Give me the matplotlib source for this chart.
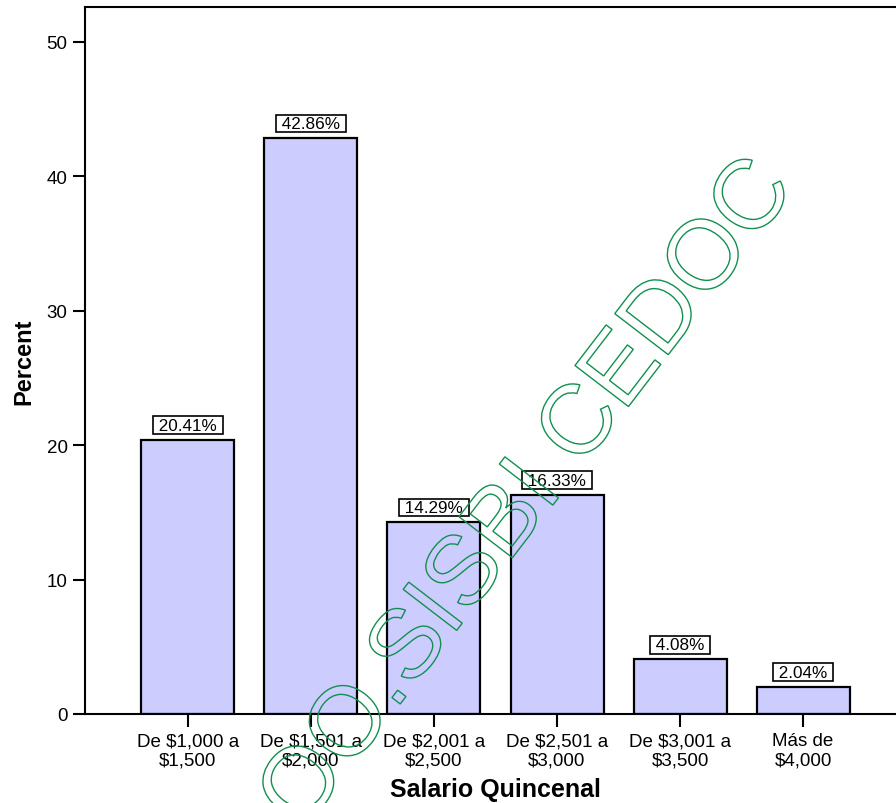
import matplotlib
matplotlib.use('Agg')
import matplotlib.pyplot as plt
from matplotlib.textpath import TextPath
from matplotlib.patches import PathPatch
from matplotlib.font_manager import FontProperties
from matplotlib.transforms import Affine2D

# ---- data ----
categories = ["De $1,000 a\n$1,500", "De $1,501 a\n$2,000", "De $2,001 a\n$2,500",
              "De $2,501 a\n$3,000", "De $3,001 a\n$3,500", "Más de\n$4,000"]
percents = [20.41, 42.86, 14.29, 16.33, 4.08, 2.04]
bar_labels = ["20.41%", "42.86%", "14.29%", "16.33%", "4.08%", "2.04%"]
yticks = [0, 10, 20, 30, 40, 50]
xlabel = "Salario Quincenal"
ylabel = "Percent"
watermark = "OO.SISBI CEDOC"

plt.rcParams['font.family'] = ['Liberation Sans', 'DejaVu Sans']

W, H = 896, 804
fig = plt.figure(figsize=(W / 100, H / 100), dpi=100)
ax = fig.add_axes([85 / W, 1 - 715 / H, (906 - 85) / W, (715 - 8) / H])

x = list(range(len(categories)))
ax.bar(x, percents, width=0.756, color='#ccccff', edgecolor='black',
       linewidth=1.6, zorder=2)

for xi, v, lab in zip(x, percents, bar_labels):
    ax.annotate(" " + lab + " ", (xi, v), xytext=(0, 5.0), textcoords='offset points',
                ha='center', va='bottom', fontsize=12.3, zorder=3,
                bbox=dict(boxstyle='square,pad=0.08', facecolor='white',
                          edgecolor='black', linewidth=1.2))

ax.set_xlim(-0.837, 5.837)
ax.set_ylim(0, 52.6)
ax.set_yticks(yticks)
ax.set_yticklabels([str(t) for t in yticks])
ax.set_xticks(x)
ax.set_xticklabels(categories, parse_math=False)
ax.tick_params(axis='both', direction='out', length=9, width=1.5, labelsize=13.5,
               color='black', labelcolor='black')
ax.tick_params(axis='y', pad=3.5)
ax.tick_params(axis='x', pad=4)
for s in ['left', 'bottom', 'top']:
    ax.spines[s].set_linewidth(1.5)
ax.spines['right'].set_visible(False)

ax.set_xlabel(xlabel, fontsize=18, fontweight='bold', labelpad=6)
ax.set_ylabel(ylabel, fontsize=17, fontweight='bold', labelpad=8)

# ---- watermark (outlined text) ----
fp = FontProperties(family='Liberation Sans')
tp = TextPath((0, 0), watermark, size=98, prop=fp)
tr = Affine2D().rotate_deg(52.5).translate(302, H - 833).scale(1 / 100)
path = tr.transform_path(tp)
patch = PathPatch(path, facecolor='none', edgecolor='#11904f', linewidth=1.0,
                  transform=fig.dpi_scale_trans, zorder=10)
fig.add_artist(patch)

fig.savefig('out.png', dpi=100)
